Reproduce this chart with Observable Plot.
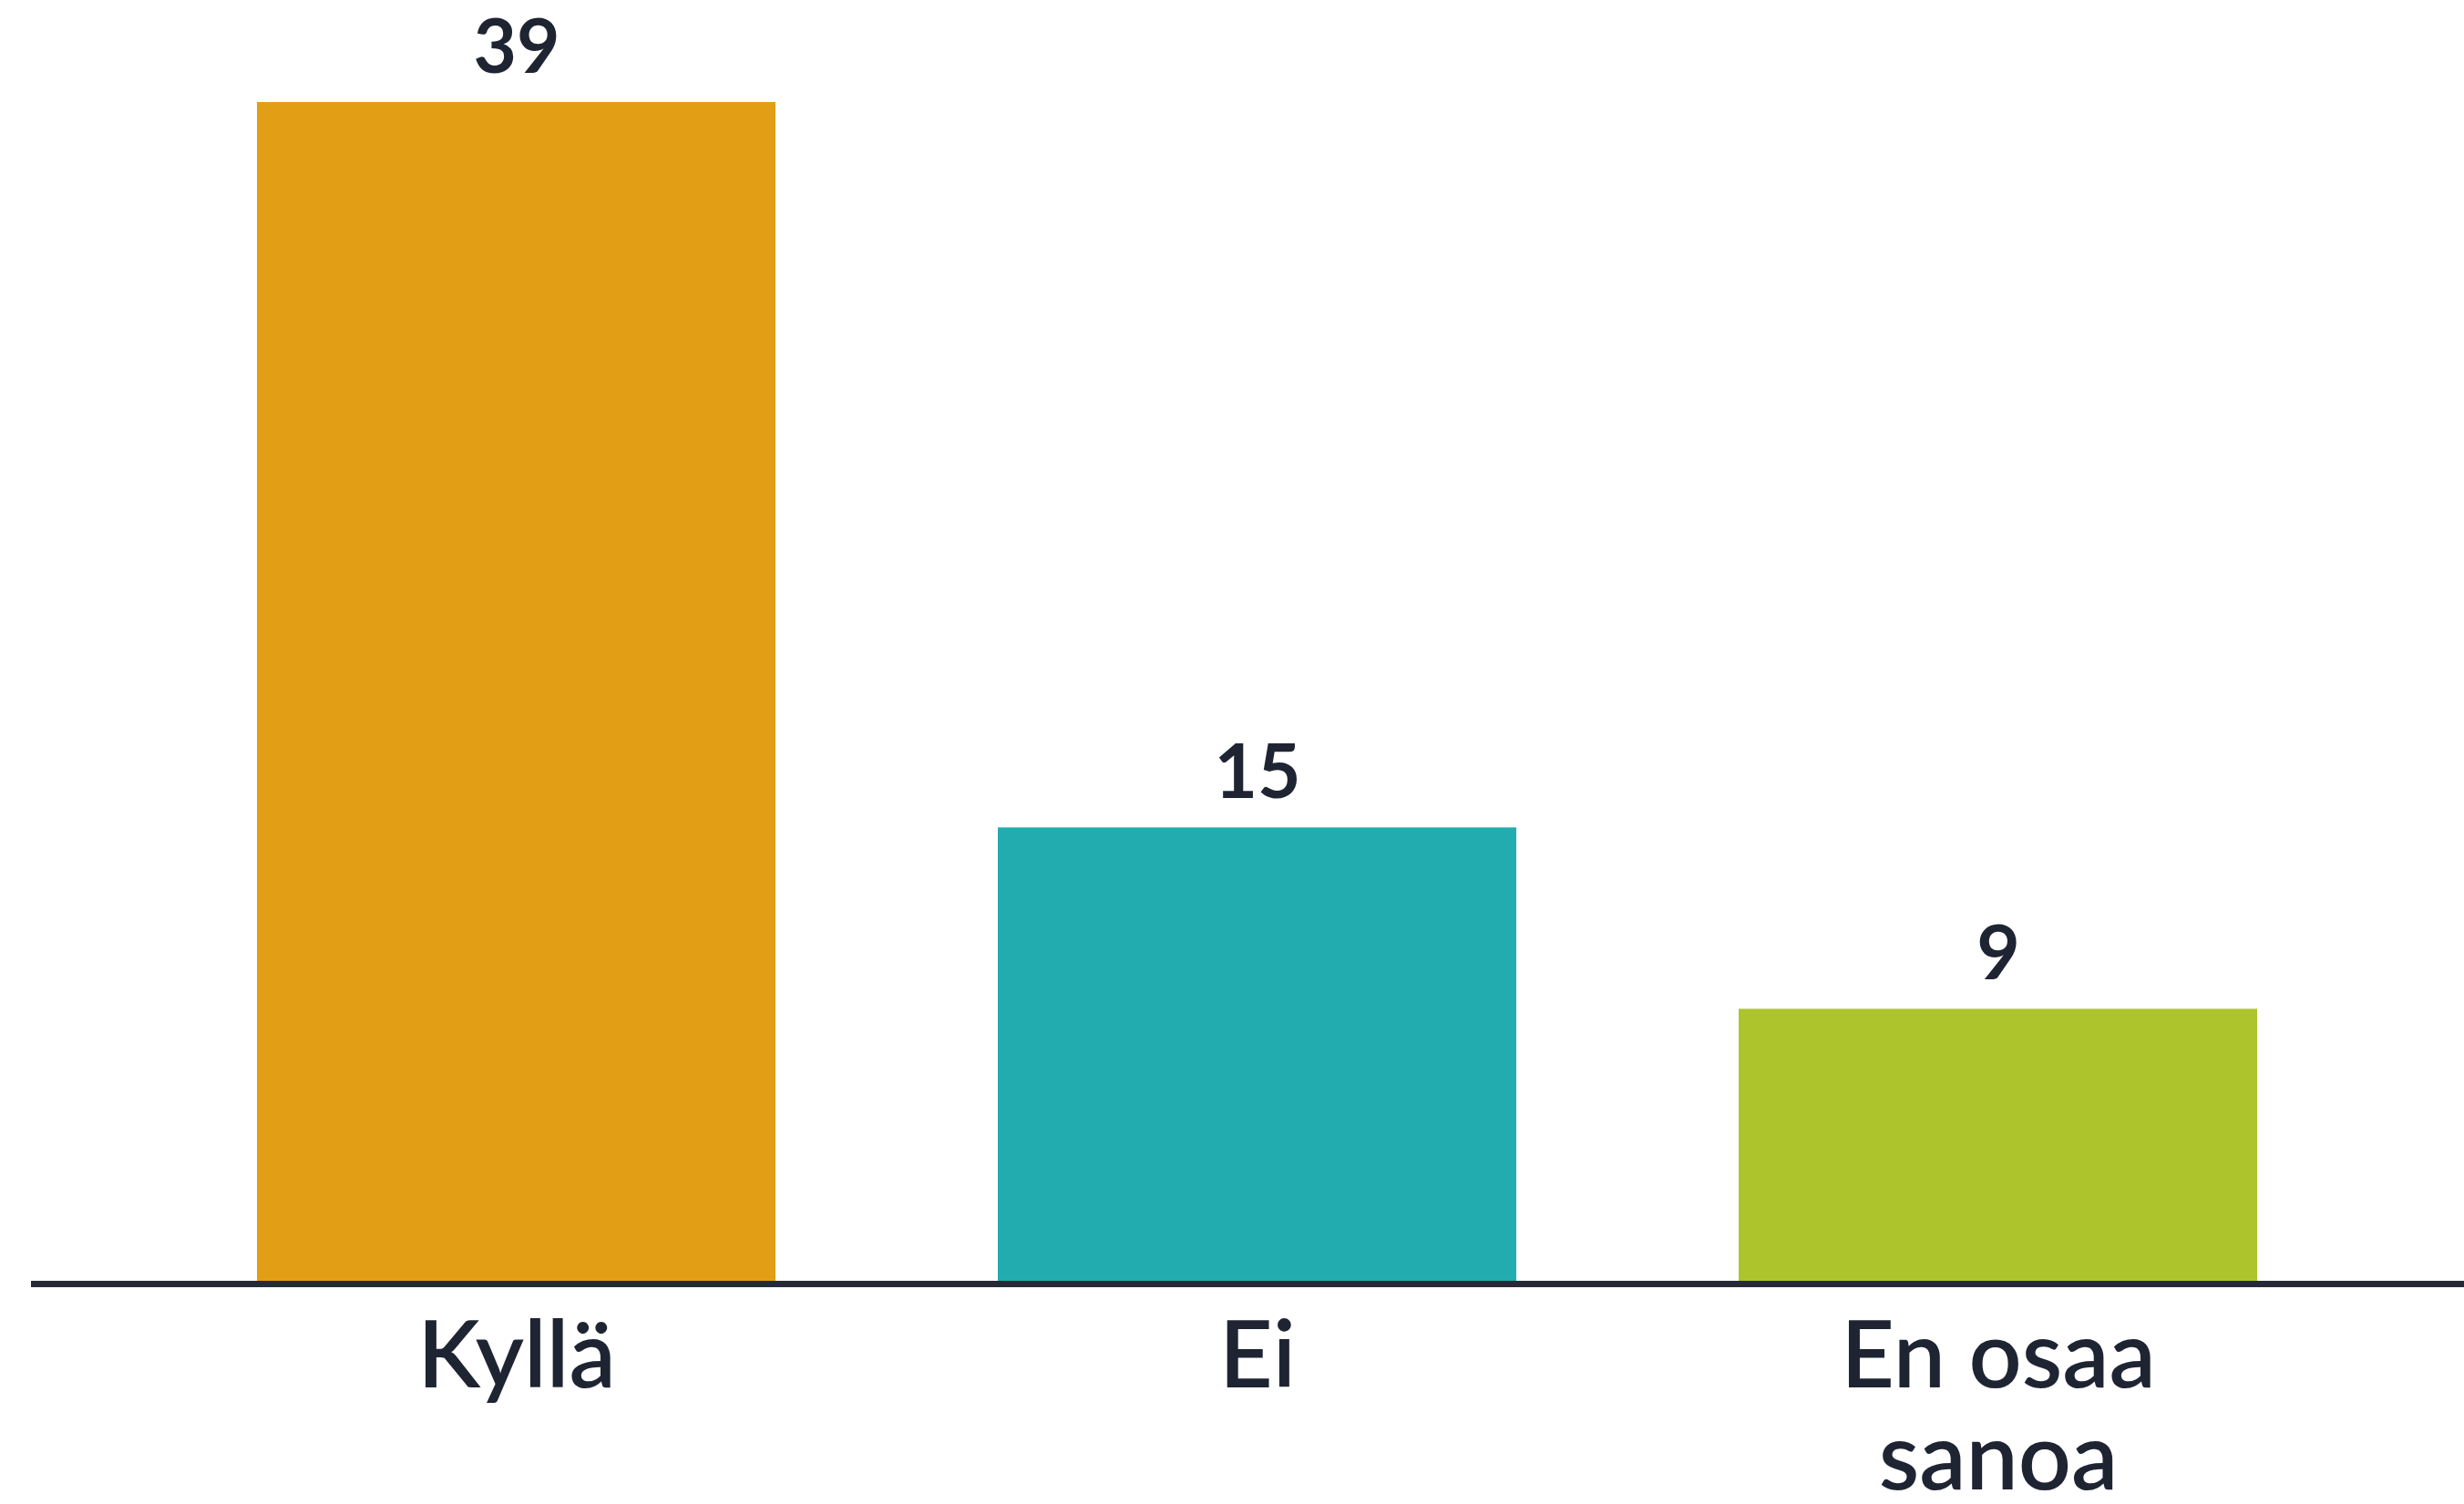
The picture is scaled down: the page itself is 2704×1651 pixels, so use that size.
<!DOCTYPE html>
<html>
<head>
<meta charset="utf-8">
<script src="https://cdn.jsdelivr.net/npm/d3@7"></script>
<script src="https://cdn.jsdelivr.net/npm/@observablehq/plot@0.6"></script>
<style>
  html, body { margin: 0; padding: 0; background: #ffffff; }
  #chart { width: 2704px; height: 1651px; }
</style>
</head>
<body>
<div id="chart"></div>
<script>
const categories = ["Kyllä", "Ei", "En osaa sanoa"];
const tickLabels = ["Kyllä", "Ei", "En osaa\nsanoa"];
const values = [39, 15, 9];
const colors = ["#E29F15", "#23ACB0", "#ADC42D"];

const data = categories.map((c, i) => ({category: c, label: tickLabels[i], value: values[i]}));
const textColor = "#1F2433";
const font = "Lato, Inter, 'Noto Sans', sans-serif";

const chart = Plot.plot({
  width: 2704,
  height: 1651,
  marginLeft: 34,
  marginRight: 0,
  marginTop: 112,
  marginBottom: 245,
  style: {fontFamily: font, background: "#ffffff", color: textColor},
  x: {domain: categories, paddingInner: 0.3, paddingOuter: 0.291, align: 0.522, axis: null},
  y: {domain: [0, 39], axis: null},
  color: {domain: categories, range: colors},
  marks: [
    Plot.barY(data, {x: "category", y: "value", fill: "category"}),
    Plot.ruleY([0], {stroke: "#252A36", strokeWidth: 7, dy: 3}),
    Plot.text(data, {
      x: "category", y: "value", text: d => String(d.value),
      lineAnchor: "bottom", dy: -33,
      fontSize: 82, fontWeight: 700, fill: textColor
    }),
    Plot.text(data, {
      x: "category", y: () => 0, text: "label",
      lineAnchor: "top", dy: 37, lineHeight: 1.1,
      fontSize: 102, fontWeight: 600, fill: textColor
    })
  ]
});
document.getElementById("chart").appendChild(chart);
</script>
</body>
</html>
